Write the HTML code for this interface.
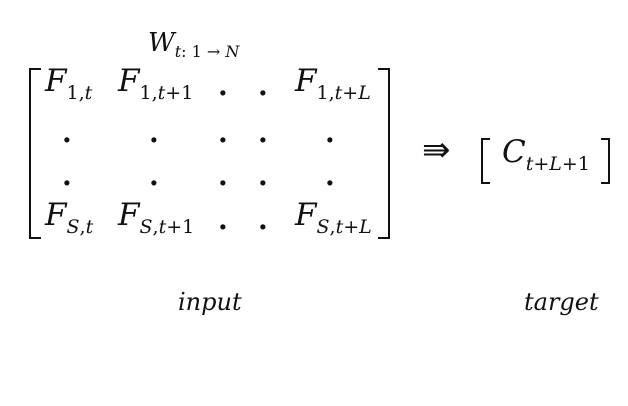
<!DOCTYPE html>
<html><head><meta charset="utf-8"><style>
body{margin:0;width:628px;height:406px;background:#fff;position:relative;overflow:hidden;font-family:"DejaVu Serif","Liberation Serif",serif;color:#111}
.a{position:absolute;white-space:nowrap;line-height:1}
.F{font-style:italic;font-size:31px}
.s{font-size:19px;font-style:normal}
.si{font-size:19px;font-style:italic}
.d{font-size:28px;font-weight:bold}
.br{position:absolute;border:2.5px solid #111}
</style></head><body>
<div class="a F" style="left:148px;top:30px;font-size:26px">W<span class="si" style="font-size:16px;vertical-align:-6px">t</span><span class="s" style="font-size:16px;vertical-align:-6px">: 1 → </span><span class="si" style="font-size:16px;vertical-align:-6px">N</span></div>
<div class="br" style="left:29px;top:68px;width:10px;height:167px;border-right:none"></div>
<div class="br" style="left:378px;top:68px;width:10px;height:167px;border-left:none"></div>
<div>
<div class="a F" style="left:45px;top:66px">F<span class="s" style="vertical-align:-8px">1,</span><span class="si" style="vertical-align:-8px">t</span></div>
<div class="a F" style="left:118px;top:66px">F<span class="s" style="vertical-align:-8px">1,</span><span class="si" style="vertical-align:-8px">t</span><span class="s" style="vertical-align:-8px">+1</span></div>
<div class="a d" style="left:218px;top:72px">.</div><div class="a d" style="left:258px;top:72px">.</div>
<div class="a F" style="left:295px;top:66px">F<span class="s" style="vertical-align:-8px">1,</span><span class="si" style="vertical-align:-8px">t</span><span class="s" style="vertical-align:-8px">+</span><span class="si" style="vertical-align:-8px">L</span></div>
<div class="a d" style="left:62px;top:119px">.</div><div class="a d" style="left:149px;top:119px">.</div><div class="a d" style="left:218px;top:119px">.</div><div class="a d" style="left:258px;top:119px">.</div><div class="a d" style="left:325px;top:119px">.</div>
<div class="a d" style="left:62px;top:162px">.</div><div class="a d" style="left:149px;top:162px">.</div><div class="a d" style="left:218px;top:162px">.</div><div class="a d" style="left:258px;top:162px">.</div><div class="a d" style="left:325px;top:162px">.</div>
<div class="a F" style="left:45px;top:200px">F<span class="si" style="vertical-align:-8px">S</span><span class="s" style="vertical-align:-8px">,</span><span class="si" style="vertical-align:-8px">t</span></div>
<div class="a F" style="left:118px;top:200px">F<span class="si" style="vertical-align:-8px">S</span><span class="s" style="vertical-align:-8px">,</span><span class="si" style="vertical-align:-8px">t</span><span class="s" style="vertical-align:-8px">+1</span></div>
<div class="a d" style="left:218px;top:206px">.</div><div class="a d" style="left:258px;top:206px">.</div>
<div class="a F" style="left:295px;top:200px">F<span class="si" style="vertical-align:-8px">S</span><span class="s" style="vertical-align:-8px">,</span><span class="si" style="vertical-align:-8px">t</span><span class="s" style="vertical-align:-8px">+</span><span class="si" style="vertical-align:-8px">L</span></div>
</div>
<div class="a" style="left:422px;top:133px;font-size:34px;font-family:'DejaVu Sans',sans-serif">⇛</div>
<div class="br" style="left:481px;top:138px;width:7px;height:42px;border-right:none"></div>
<div class="a F" style="left:502px;top:137px">C<span class="si" style="vertical-align:-8px">t</span><span class="s" style="vertical-align:-8px">+</span><span class="si" style="vertical-align:-8px">L</span><span class="s" style="vertical-align:-8px">+1</span></div>
<div class="br" style="left:601px;top:138px;width:7px;height:42px;border-left:none"></div>
<div class="a" style="left:178px;top:290px;font-size:24px;font-style:italic">input</div>
<div class="a" style="left:524px;top:290px;font-size:24px;font-style:italic">target</div>
</body></html>
